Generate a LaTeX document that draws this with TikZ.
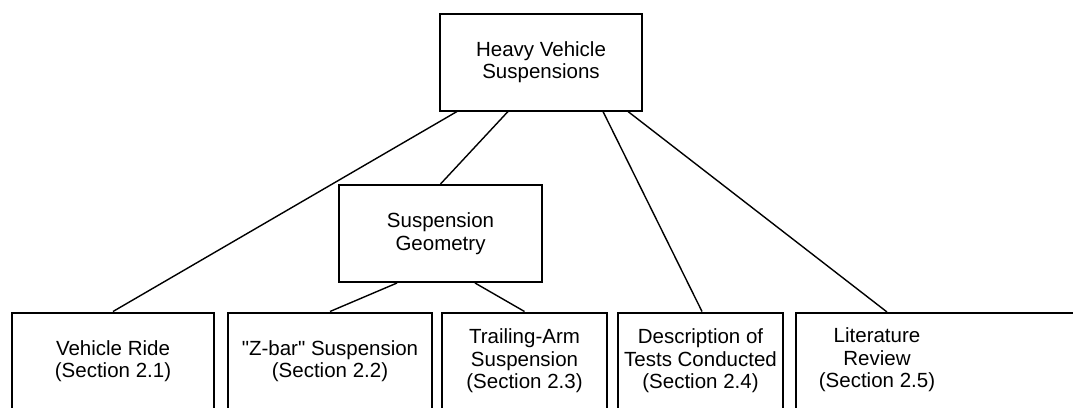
\documentclass[tikz,border=0pt]{standalone}
\usepackage{fontspec}
\newfontfamily\lsans{Liberation Sans}
\usetikzlibrary{calc}
\begin{document}
\begin{tikzpicture}[x=1pt,y=-1pt,
  box/.style={draw=black, line width=2pt, fill=white, inner sep=0pt,
    align=center, minimum height=97pt, font=\lsans\fontsize{20.5}{22.5}\selectfont},
  lbl/.style={inner sep=0pt, align=center, font=\lsans\fontsize{20.5}{22.5}\selectfont},
  link/.style={draw=black, line width=1.4pt}]
\path[use as bounding box] (0,0) rectangle (1073,407);
\clip (0,0) rectangle (1073,407);
\node[box, minimum width=202pt] (hvs) at (541,62) {Heavy Vehicle\\Suspensions};
\node[box, minimum width=203pt] (sg) at (440.5,233.5) {Suspension\\Geometry};
\node[box, minimum width=202pt] (vr) at (113,361) {Vehicle Ride\\(Section 2.1)};
\node[box, minimum width=204pt] (zb) at (330,361) {"Z-bar" Suspension\\(Section 2.2)};
\node[box, minimum width=165pt] (ta) at (524.5,361) {Trailing-Arm\\Suspension\\(Section 2.3)};
\node[box, minimum width=165pt] (dt) at (700.5,361) {Description of\\Tests Conducted\\(Section 2.4)};
\node[box, minimum width=330pt, anchor=north west] (lit) at (795,312) {};
\node[lbl] (littext) at (877,360) {Literature\\Review\\(Section 2.5)};
\draw[link] ($(hvs.south)+(-84,0)$) -- (vr.north);
\draw[link] ($(hvs.south)+(-33,0)$) -- (sg.north);
\draw[link] ($(hvs.south)+(62,0)$) -- ($(dt.north)+(1.5,0)$);
\draw[link] ($(hvs.south)+(87,0)$) -- ($(lit.north west)+(92,0)$);
\draw[link] ($(sg.south)+(-43.5,0)$) -- (zb.north);
\draw[link] ($(sg.south)+(34.5,0)$) -- (ta.north);
\end{tikzpicture}
\end{document}
